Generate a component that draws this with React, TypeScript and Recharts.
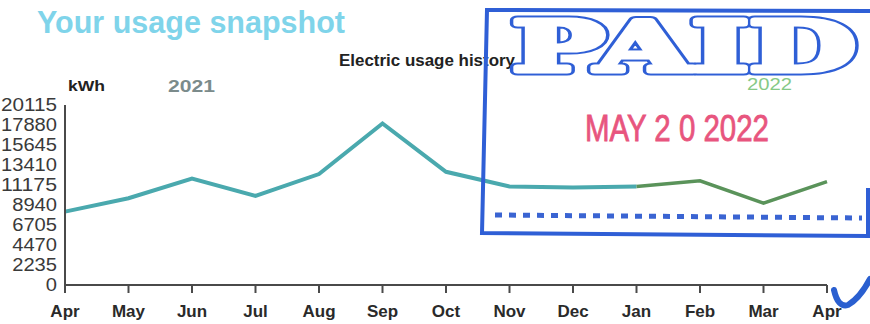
import React from "react";
import { LineChart, Line, XAxis, YAxis } from "recharts";

const months = ["Apr", "May", "Jun", "Jul", "Aug", "Sep", "Oct", "Nov", "Dec", "Jan", "Feb", "Mar", "Apr"];
const usage2021: (number | null)[] = [8200, 9700, 11900, 9950, 12400, 18050, 12650, 11000, 10900, 11000, null, null, null];
const usage2022: (number | null)[] = [null, null, null, null, null, null, null, null, null, 11000, 11650, 9150, 11550];
const yTicks = [0, 2235, 4470, 6705, 8940, 11175, 13410, 15645, 17880, 20115];

const data = months.map((m, i) => ({ key: i, month: m, y2021: usage2021[i], y2022: usage2022[i] }));

const YTick = (props: any) => {
  const { x, y, payload } = props;
  const s = String(payload.value);
  return (
    <text
      x={x}
      y={y + 6}
      textAnchor="end"
      fill="#3a3a3a"
      fontSize={18}
      fontFamily="Liberation Sans, Arial, sans-serif"
      textLength={s.length * 11.2}
      lengthAdjust="spacingAndGlyphs"
    >
      {s}
    </text>
  );
};

const XTick = (props: any) => {
  const { x, y, payload } = props;
  return (
    <text
      x={x}
      y={y + 22}
      textAnchor="middle"
      fill="#2a2a2a"
      fontSize={17}
      fontWeight="bold"
      fontFamily="Liberation Sans, Arial, sans-serif"
    >
      {months[payload.value]}
    </text>
  );
};

const paidProps = {
  x: 512,
  y: 71,
  fontSize: 70,
  fontWeight: "bold" as const,
  fontFamily: "DejaVu Serif, serif",
  textLength: 344,
  lengthAdjust: "spacingAndGlyphs" as const,
  strokeLinejoin: "round" as const,
};

export default function App() {
  return (
    <div style={{ position: "absolute", left: 0, top: 0, width: 870, height: 324, background: "#fff", overflow: "hidden" }}>
      <div style={{ position: "absolute", left: 0, top: 0 }}>
        <LineChart width={870} height={324} data={data} margin={{ top: 105, right: 43, bottom: 0, left: 6 }}>
          <XAxis
            dataKey="key"
            type="number"
            domain={[0, 12]}
            ticks={months.map((_, i) => i)}
            interval={0}
            height={39}
            axisLine={{ stroke: "#4a4a4a", strokeWidth: 2 }}
            tickLine={{ stroke: "#4a4a4a", strokeWidth: 2 }}
            tickSize={8}
            tick={<XTick />}
          />
          <YAxis
            type="number"
            domain={[0, 20115]}
            ticks={yTicks}
            interval={0}
            width={59}
            axisLine={{ stroke: "#4a4a4a", strokeWidth: 2 }}
            tickLine={false}
            tick={<YTick />}
          />
          <Line type="linear" dataKey="y2021" stroke="#4aa9ae" strokeWidth={4} dot={false} isAnimationActive={false} connectNulls={false} />
          <Line type="linear" dataKey="y2022" stroke="#5a935a" strokeWidth={3.5} dot={false} isAnimationActive={false} connectNulls={false} />
        </LineChart>
      </div>
      <svg width={870} height={324} style={{ position: "absolute", left: 0, top: 0, pointerEvents: "none" }}>
        <text x={37} y={33} fill="#7fd4ea" fontSize={31} fontWeight="bold" fontFamily="Liberation Sans, Arial, sans-serif" textLength={308} lengthAdjust="spacingAndGlyphs">
          Your usage snapshot
        </text>
        <text x={339} y={66} fill="#222" fontSize={17} fontWeight="bold" fontFamily="Liberation Sans, Arial, sans-serif" textLength={176} lengthAdjust="spacingAndGlyphs">
          Electric usage history
        </text>
        <text x={68} y={91} fill="#222" fontSize={15} fontWeight="bold" fontFamily="Liberation Sans, Arial, sans-serif" textLength={37} lengthAdjust="spacingAndGlyphs">
          kWh
        </text>
        <text x={168} y={92} fill="#7b8b8b" fontSize={16} fontWeight="bold" fontFamily="Liberation Sans, Arial, sans-serif" textLength={47} lengthAdjust="spacingAndGlyphs">
          2021
        </text>
        <text x={747} y={90} fill="#86c986" fontSize={16} fontFamily="Liberation Sans, Arial, sans-serif" textLength={45} lengthAdjust="spacingAndGlyphs">
          2022
        </text>
        {/* stamp */}
        <path d="M870 11 L487 10 L482 233 L868 236 L868 188" fill="none" stroke="#2f5fd6" strokeWidth={4} />
        <line x1={495} y1={215} x2={862} y2={218} stroke="#3a64d2" strokeWidth={5} strokeDasharray="7 7" />
        <text {...paidProps} fill="none" stroke="#2f5fd6" strokeWidth={9}>
          PAID
        </text>
        <text {...paidProps} fill="#fff" stroke="#fff" strokeWidth={5}>
          PAID
        </text>
        <text x={585} y={141} fill="#e8557e" stroke="#e8557e" strokeWidth={0.8} fontSize={36} fontFamily="Liberation Sans Narrow, Liberation Sans, Arial, sans-serif" textLength={184} lengthAdjust="spacingAndGlyphs">
          MAY 2 0 2022
        </text>
        <path d="M834 290 Q838 308 848 305 Q860 298 870 279" fill="none" stroke="#2a5fd0" strokeWidth={6} strokeLinecap="round" />
      </svg>
    </div>
  );
}
